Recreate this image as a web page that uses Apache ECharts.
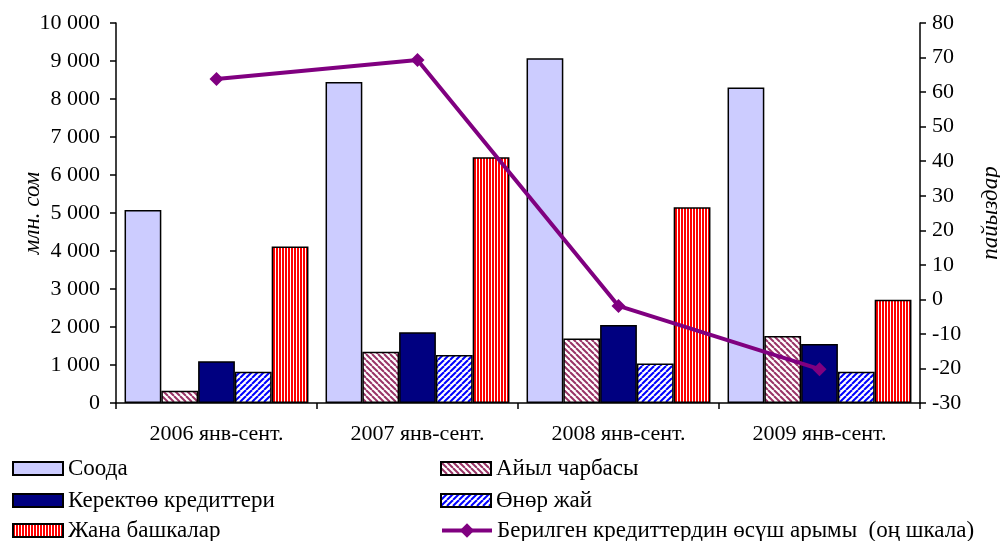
<!DOCTYPE html>
<html>
<head>
<meta charset="utf-8">
<script src="https://cdn.jsdelivr.net/npm/echarts@6/dist/echarts.min.js"></script>
<style>html,body{margin:0;padding:0;background:#fff}#c{width:1000px;height:541px}</style>
</head>
<body>
<div id="c"></div>
<script>
const categories = ['2006 янв-сент.', '2007 янв-сент.', '2008 янв-сент.', '2009 янв-сент.'];
const seriesNames = ['Соода', 'Айыл чарбасы', 'Керектөө кредиттери', 'Өнөр жай', 'Жана башкалар', 'Берилген кредиттердин өсүш арымы  (оң шкала)'];
const trade = [5080, 8450, 9070, 8300];
const agriculture = [320, 1350, 1700, 1760];
const consumer = [1100, 1860, 2050, 1550];
const industry = [820, 1260, 1040, 820];
const other = [4120, 6470, 5150, 2720];
const growth = [63.8, 69.3, -1.9, -20.2];
const leftTicks = {min: 0, max: 10000, interval: 1000};
const rightTicks = {min: -30, max: 80, interval: 10};

function makePattern(kind) {
  const c = document.createElement('canvas');
  const ctx = c.getContext('2d');
  if (kind === 'vert') {
    c.width = 3; c.height = 3;
    ctx.fillStyle = '#fff'; ctx.fillRect(0, 0, 3, 3);
    ctx.fillStyle = '#ff0000'; ctx.fillRect(0, 0, 2, 3);
  } else {
    const s = 6;
    c.width = s; c.height = s;
    ctx.fillStyle = '#fff'; ctx.fillRect(0, 0, s, s);
    ctx.strokeStyle = kind === 'back' ? '#993366' : '#0000ff';
    ctx.lineWidth = 2;
    for (const k of [-s, 0, s]) {
      ctx.beginPath();
      if (kind === 'back') { ctx.moveTo(k, 0); ctx.lineTo(k + s, s); }
      else { ctx.moveTo(k, s); ctx.lineTo(k + s, 0); }
      ctx.stroke();
    }
  }
  return {image: c, repeat: 'repeat'};
}

const font = 'Liberation Serif';
const chart = echarts.init(document.getElementById('c'));
const barBase = {type: 'bar', barGap: '0%', barCategoryGap: '8.5%', yAxisIndex: 0};
const border = {borderColor: '#000', borderWidth: 1.5};
function fmt(v) { return String(v).replace(/\B(?=(\d{3})+(?!\d))/g, ' '); }

const legendText = {fontFamily: font, fontSize: 23, color: '#000', lineHeight: 22};
const legendPos = [[12, 457], [440, 457], [12, 489], [440, 489], [12, 519], [440, 519]];
const legends = seriesNames.map((n, i) => {
  const item = i === 5
    ? {name: n, lineStyle: {width: 4, color: '#800080'}, itemStyle: {color: '#800080'}}
    : {name: n, icon: 'rect'};
  return {left: legendPos[i][0], top: legendPos[i][1], padding: 0, itemWidth: 50,
          itemHeight: i === 5 ? 18 : 13, textStyle: legendText, data: [item]};
});

chart.setOption({
  animation: false,
  grid: {left: 116, right: 80, top: 23, bottom: 138, outerBoundsMode: 'none', containLabel: false},
  legend: legends,
  xAxis: {
    type: 'category', data: categories,
    axisLine: {lineStyle: {color: '#000', width: 1.5}},
    axisTick: {show: true, length: 6, lineStyle: {color: '#000', width: 1.5}},
    axisLabel: {fontFamily: font, fontSize: 22, color: '#000', margin: 20}
  },
  yAxis: [
    {type: 'value', min: leftTicks.min, max: leftTicks.max, interval: leftTicks.interval,
     name: 'млн. сом', nameLocation: 'middle', nameRotate: 90, nameGap: 72, nameMoveOverlap: false,
     nameTextStyle: {fontFamily: font, fontSize: 23, fontStyle: 'italic', color: '#000'},
     axisLine: {show: true, lineStyle: {color: '#000', width: 1.5}},
     axisTick: {show: true, length: 6, lineStyle: {color: '#000', width: 1.5}},
     axisLabel: {fontFamily: font, fontSize: 22, color: '#000', margin: 16, formatter: fmt},
     splitLine: {show: false}},
    {type: 'value', min: rightTicks.min, max: rightTicks.max, interval: rightTicks.interval,
     name: 'пайыздар', nameLocation: 'middle', nameRotate: 90, nameGap: 59, nameMoveOverlap: false,
     nameTextStyle: {fontFamily: font, fontSize: 23, fontStyle: 'italic', color: '#000'},
     axisLine: {show: true, lineStyle: {color: '#000', width: 1.5}},
     axisTick: {show: true, length: 6, lineStyle: {color: '#000', width: 1.5}},
     axisLabel: {fontFamily: font, fontSize: 22, color: '#000', margin: 12},
     splitLine: {show: false}}
  ],
  series: [
    Object.assign({}, barBase, {name: seriesNames[0], data: trade, itemStyle: Object.assign({color: '#ccccff'}, border)}),
    Object.assign({}, barBase, {name: seriesNames[1], data: agriculture, itemStyle: Object.assign({color: makePattern('back')}, border)}),
    Object.assign({}, barBase, {name: seriesNames[2], data: consumer, itemStyle: Object.assign({color: '#000080'}, border)}),
    Object.assign({}, barBase, {name: seriesNames[3], data: industry, itemStyle: Object.assign({color: makePattern('fwd')}, border)}),
    Object.assign({}, barBase, {name: seriesNames[4], data: other, itemStyle: Object.assign({color: makePattern('vert')}, border)}),
    {type: 'line', name: seriesNames[5], yAxisIndex: 1, data: growth,
     symbol: 'diamond', symbolSize: 14, lineStyle: {color: '#800080', width: 4},
     itemStyle: {color: '#800080'}, z: 5}
  ]
});
</script>
</body>
</html>
